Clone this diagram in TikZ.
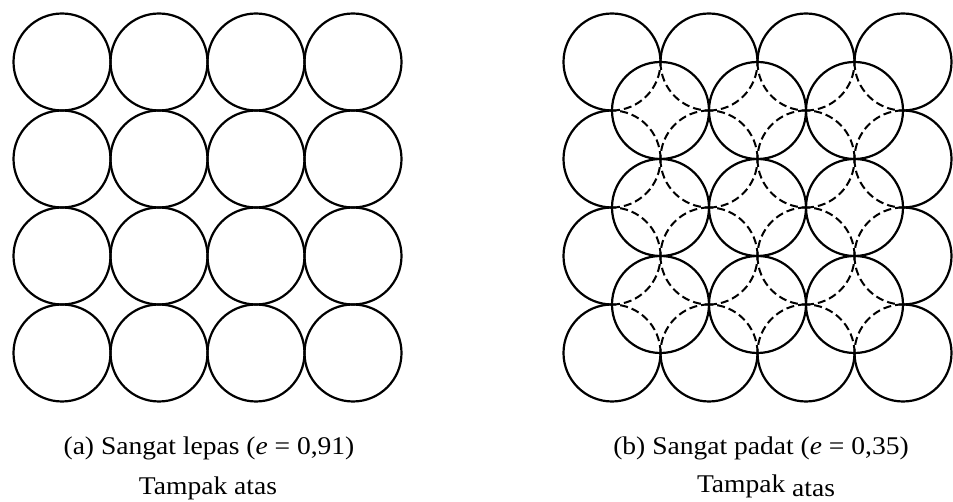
\documentclass[tikz,border=0pt]{standalone}
\usepackage{fontspec}
\setmainfont{Liberation Serif}
\begin{document}
\begin{tikzpicture}[x=1pt,y=1pt,
  vis/.style={line width=2.2pt,black},
  hid/.style={line width=2pt,black,dash pattern=on 8pt off 4pt},
  captext/.style={inner sep=0pt,anchor=base,font=\fontsize{25.5}{30}\selectfont,xscale=1.08,transform shape}]
\useasboundingbox (0,0) rectangle (953,502);
\def\R{48.5}
% (a) loose packing
\foreach \i in {0,...,3}{
  \foreach \j in {0,...,3}{
    \draw[vis] ({62+97*\i},{440-97*\j}) circle[radius=\R];
  }
}
% (b) dense packing: bottom layer
\foreach \i in {0,...,3}{
  \foreach \j in {0,...,3}{
    \foreach \a in {0,90,180,270}{
      \pgfmathtruncatemacro\hh{ifthenelse(or(\a==0,\a==270),\i<3,\i>0)}
      \pgfmathtruncatemacro\vv{ifthenelse(\a<180,\j>0,\j<3)}
      \pgfmathtruncatemacro\hd{\hh*\vv}
      \ifnum\hd=1 \def\st{hid}\else\def\st{vis}\fi
      \draw[\st] ([shift={(\a:\R)}]{612+97*\i},{440-97*\j}) arc[start angle=\a,delta angle=90,radius=\R];
    }
  }
}
% (b) top layer
\foreach \i in {0,...,2}{
  \foreach \j in {0,...,2}{
    \draw[vis] ({660.5+97*\i},{391.5-97*\j}) circle[radius=\R];
  }
}
\node[captext] (capa) at (209,47) {(a) Sangat lepas (\textit{e} = 0,91)};
\node[captext] (viewa) at (208,7) {Tampak atas};
\node[captext] (capb) at (761,47) {(b) Sangat padat (\textit{e} = 0,35)};
\node[captext] (viewb) at (766,9) {Tampak \raisebox{-3.5pt}{atas}};
\end{tikzpicture}
\end{document}
